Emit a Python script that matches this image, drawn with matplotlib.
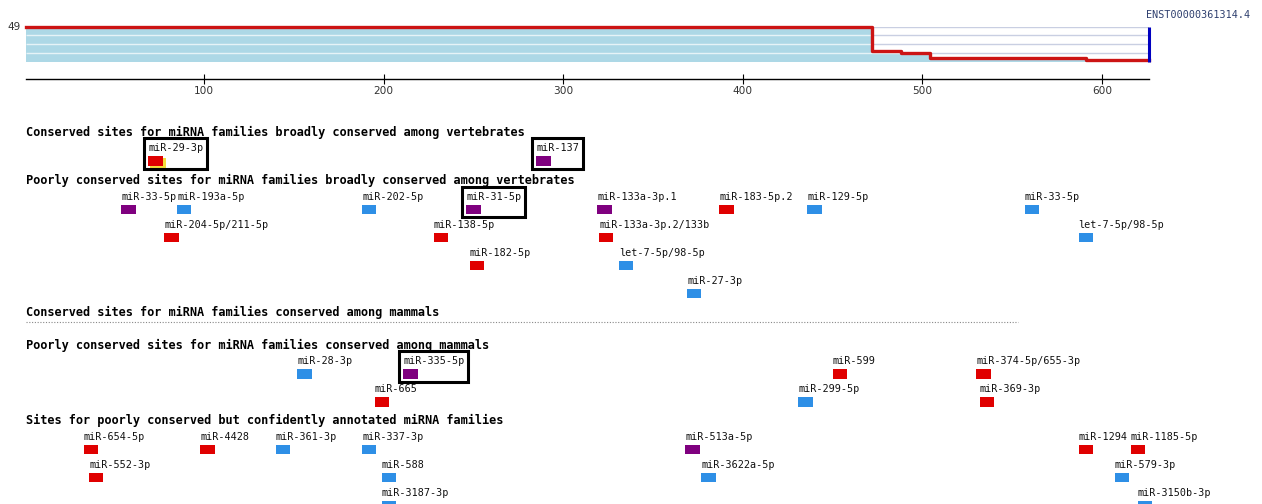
import matplotlib.pyplot as plt
from matplotlib.patches import Rectangle

# ---- data ----
utr_len = 626
cov_start = [1, 472, 488, 504, 591]
cov_species = [49, 15, 13, 5, 3]
x_ticks = [100, 200, 300, 400, 500, 600]
transcript = "ENST00000361314.4"

section_titles = [
    "Conserved sites for miRNA families broadly conserved among vertebrates",
    "Poorly conserved sites for miRNA families broadly conserved among vertebrates",
    "Conserved sites for miRNA families conserved among mammals",
    "Poorly conserved sites for miRNA families conserved among mammals",
    "Sites for poorly conserved but confidently annotated miRNA families",
]

site_names = [
    "miR-29-3p", "miR-137",
    "miR-33-5p", "miR-193a-5p", "miR-202-5p", "miR-31-5p", "miR-133a-3p.1",
    "miR-183-5p.2", "miR-129-5p", "miR-33-5p",
    "miR-204-5p/211-5p", "miR-138-5p", "miR-133a-3p.2/133b", "let-7-5p/98-5p",
    "miR-182-5p", "let-7-5p/98-5p", "miR-27-3p",
    "miR-28-3p", "miR-335-5p", "miR-599", "miR-374-5p/655-3p",
    "miR-665", "miR-299-5p", "miR-369-3p",
    "miR-654-5p", "miR-4428", "miR-361-3p", "miR-337-3p", "miR-513a-5p",
    "miR-1294", "miR-1185-5p",
    "miR-552-3p", "miR-588", "miR-3622a-5p", "miR-579-3p",
    "miR-3187-3p", "miR-3150b-3p",
]
site_pos = [
    69, 285,
    54, 85, 188, 246, 319, 387, 436, 557,
    78, 228, 320, 587,
    248, 331, 369,
    152, 211, 450, 530,
    195, 431, 532,
    33, 98, 140, 188, 368, 587, 616,
    36, 199, 377, 607,
    199, 620,
]
site_kind = [
    "8mer", "7mer-A1",
    "7mer-A1", "7mer-m8", "7mer-m8", "7mer-A1", "7mer-A1", "8mer", "7mer-m8", "7mer-m8",
    "8mer", "8mer", "8mer", "7mer-m8",
    "8mer", "7mer-m8", "7mer-m8",
    "7mer-m8", "7mer-A1", "8mer", "8mer",
    "8mer", "7mer-m8", "8mer",
    "8mer", "8mer", "7mer-m8", "7mer-m8", "7mer-A1", "8mer", "8mer",
    "8mer", "7mer-m8", "7mer-m8", "7mer-m8",
    "7mer-m8", "7mer-m8",
]
site_section = [0] * 2 + [1] * 15 + [3] * 7 + [4] * 13
site_row = [
    0, 0,
    0, 0, 0, 0, 0, 0, 0, 0,
    1, 1, 1, 1,
    2, 2, 3,
    0, 0, 0, 0,
    1, 1, 1,
    0, 0, 0, 0, 0, 0, 0,
    1, 1, 1, 1,
    2, 2,
]
boxed = [("miR-29-3p", 0), ("miR-137", 0), ("miR-31-5p", 1), ("miR-335-5p", 3)]

kind_color = {"8mer": "#e00000", "7mer-m8": "#2e8fe6", "7mer-A1": "#7f007f"}

# ---- layout (pixels) ----
W, H = 1262, 504
px0, px_per_nt = 24.4, 1.796          # x pixel = px0 + px_per_nt * nt
header_y = [132, 180.7, 312.7, 345, 420.7]
row_gap, sq_h, sq_w = 28, 9.5, 8

fig = plt.figure(figsize=(W / 100, H / 100), dpi=100)

# whole-figure axes: x in nucleotides, y in pixels
ax = fig.add_axes([0, 0, 1, 1])
ax.set_xlim(-px0 / px_per_nt, (W - px0) / px_per_nt)
ax.set_ylim(H, 0)
ax.axis("off")

# coverage panel
top_px, bot_px = 26.5, 62
x_l = px0 + px_per_nt * 1
x_r = px0 + px_per_nt * utr_len
axt = fig.add_axes([x_l / W, 1 - bot_px / H, (x_r - x_l) / W, (bot_px - top_px) / H])
axt.set_xlim(1, utr_len)
axt.set_ylim(0, 49)
axt.patch.set_alpha(0)
for s in ["top", "left", "right"]:
    axt.spines[s].set_visible(False)
axt.spines["bottom"].set_position(("outward", 12.2))
axt.spines["bottom"].set_linewidth(1)
axt.set_yticks([])
axt.set_xticks(x_ticks)
axt.tick_params(axis="x", direction="inout", length=6.5, width=0.8, pad=1.5,
                labelsize=7.6, labelcolor="#333333")

xs = cov_start + [utr_len]
ys = cov_species + [cov_species[-1]]
grid_vals = [12.25, 24.5, 36.75, 49]
axt.hlines(grid_vals, 1, utr_len, color="#c9cfe2", lw=1, zorder=1)
fill = axt.fill_between(xs, 0, ys, step="post", color="#add8e6", lw=0, zorder=2)
wl = axt.hlines(grid_vals[:-1], 1, utr_len, color="white", lw=1, alpha=0.7, zorder=3)
wl.set_clip_path(fill.get_paths()[0], axt.transData)
axt.step(xs, ys, where="post", color="#cc1414", lw=2.4, zorder=4, clip_on=False)
axt.vlines(utr_len, 0, 49, color="#0000c0", lw=2.2, zorder=5, clip_on=False)
axt.text(-1.9, 49, "49", ha="right", va="center", fontsize=7.6, color="#333333",
         clip_on=False)

ax.text(utr_len - 1.3, 14.5, transcript, ha="left", va="center", fontsize=7.3,
        family="DejaVu Sans Mono", color="#2e3f6e")

# section headers
for i, title in enumerate(section_titles):
    ax.text(1, header_y[i], title, ha="left", va="center", fontsize=8.6,
            family="DejaVu Sans Mono", fontweight="bold", color="black")
# dotted line for the empty section
ax.hlines(header_y[2] + 9.5, 1, 553, color="#888888", lw=0.8,
          linestyles=(0, (1, 1.5)))

# sites
for name, pos, kind, sec, row in zip(site_names, site_pos, site_kind,
                                     site_section, site_row):
    top = header_y[sec] + 24 + row * row_gap
    if (name, sec) == ("miR-29-3p", 0):
        ax.add_patch(Rectangle((pos + 1.5 / px_per_nt, top + 1.5), 16 / px_per_nt, 11,
                               color="#f3dc3c", lw=0, zorder=2))
    ax.bar(pos, sq_h, width=sq_w, bottom=top, align="edge",
           color=kind_color[kind], lw=0, zorder=3)
    ax.text(pos, top - 8, name, ha="left", va="center", fontsize=7.3,
            family="DejaVu Sans Mono", color="#111111", zorder=4)
    if (name, sec) in boxed:
        w_px = len(name) * 6.05 + 8.5
        ax.add_patch(Rectangle((pos - 4 / px_per_nt, top - 18), w_px / px_per_nt,
                               18 + sq_h + 3, fill=False, ec="black", lw=2.2,
                               zorder=5))

fig.savefig("out.png", dpi=100)
